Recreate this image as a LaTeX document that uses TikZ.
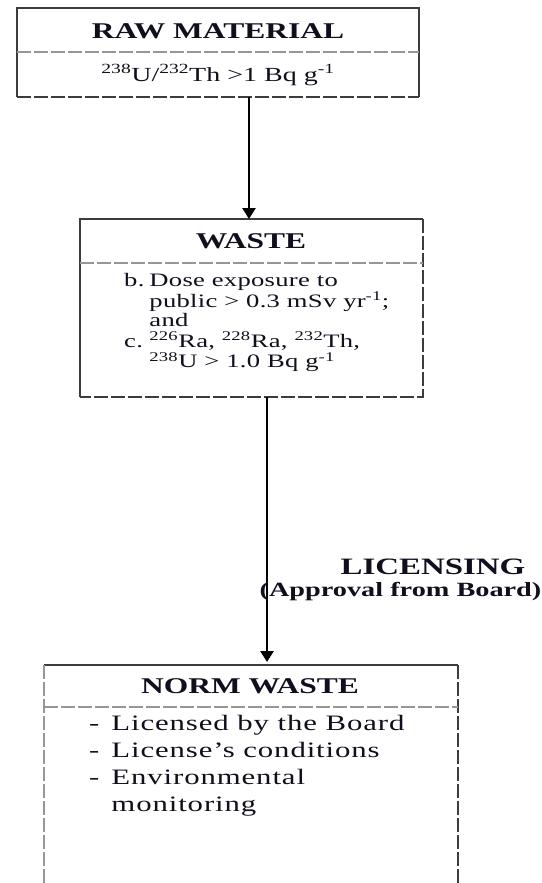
\documentclass[tikz,border=0pt]{standalone}
\usepackage{fontspec}
\setmainfont{Liberation Serif}[FakeStretch=1.4]
\usetikzlibrary{arrows.meta}
\definecolor{edge}{RGB}{60,60,60}
\definecolor{sep}{RGB}{150,150,150}
\definecolor{ink}{RGB}{15,15,30}
\begin{document}
\begin{tikzpicture}[x=1pt,y=-1pt,
  region/.style={rectangle,inner sep=0pt,outer sep=0pt},
  solidedge/.style={draw=edge,line width=1.8pt},
  dashedge/.style={draw=edge,line width=1.8pt,dash pattern=on 14pt off 3pt},
  sepline/.style={draw=sep,line width=1.8pt,dash pattern=on 14pt off 3pt},
  head/.style={inner sep=0pt,font=\fontsize{22.5}{24}\selectfont\bfseries,text=ink},
  body/.style={inner sep=0pt,text=ink,align=left},
  arr/.style={draw=black,line width=2.5pt,-{Triangle[length=11pt,width=13pt]}}]
\useasboundingbox (0,0) rectangle (541,883);

% RAW MATERIAL box
\node[region,minimum width=402pt,minimum height=89pt] (raw) at (218,52.5) {};
\coordinate (rawsep) at (0,52);
\draw[solidedge] (raw.south west) -- (raw.north west) -- (raw.north east) -- (raw.south east);
\draw[dashedge] (raw.south west) -- (raw.south east);
\draw[sepline] (raw.west |- rawsep) -- (raw.east |- rawsep);
\node[head] (rawh) at (218,31) {RAW MATERIAL};
\node[body,font=\fontsize{20}{22}\selectfont] (rawb) at (218,75)
  {\textsuperscript{238}U/\textsuperscript{232}Th >1 Bq g\textsuperscript{-1}};

% WASTE box
\node[region,minimum width=343pt,minimum height=178pt] (waste) at (251.5,308) {};
\coordinate (wastesep) at (0,263);
\draw[solidedge] (waste.south west) -- (waste.north west) -- (waste.north east);
\draw[dashedge] (waste.north east) -- (waste.south east) -- (waste.south west);
\draw[sepline] (waste.west |- wastesep) -- (waste.east |- wastesep);
\node[head] (wasteh) at (251,241) {WASTE};
\node[body,anchor=north west,font=\fontsize{19}{19}\selectfont\addfontfeatures{LetterSpace=1.5}] (wasteb) at (124,273)
  {\begin{tabular}{@{}l@{\hspace{5pt}}l@{}}
   b. & Dose exposure to\\
      & public > 0.3 mSv yr\textsuperscript{-1};\\
      & and\\
   c. & \textsuperscript{226}Ra, \textsuperscript{228}Ra, \textsuperscript{232}Th,\\
      & \textsuperscript{238}U > 1.0 Bq g\textsuperscript{-1}
   \end{tabular}};

% NORM WASTE box
\node[region,minimum width=414pt,minimum height=240pt] (norm) at (251,785) {};
\coordinate (normsep) at (0,707);
\draw[solidedge] (norm.north west) -- (norm.north east);
\draw[dashedge] (norm.north east) -- (norm.south east);
\draw[sepline] (norm.north west) -- (norm.south west);
\draw[sepline] (norm.west |- normsep) -- (norm.east |- normsep);
\node[head] (normh) at (250,686) {NORM WASTE};
\node[body,anchor=north west,font=\fontsize{22}{27}\selectfont\addfontfeatures{LetterSpace=4}] (normb) at (89,711)
  {\begin{tabular}{@{}l@{\hspace{12pt}}l@{}}
   - & Licensed by the Board\\
   - & License's conditions\\
   - & Environmental\\
     & monitoring
   \end{tabular}};

% connectors
\coordinate (c1) at (249,0);
\coordinate (c2) at (267,0);
\draw[arr] (raw.south -| c1) -- (waste.north -| c1);
\draw[arr,shorten >=3pt] (waste.south -| c2) -- (norm.north -| c2);

% label
\node[head,font=\fontsize{23.5}{24}\selectfont\bfseries] (lic) at (433,567) {LICENSING};
\node[head,font=\fontsize{20.2}{22}\selectfont\bfseries] (appr) at (400.5,592) {(Approval from Board)};
\end{tikzpicture}
\end{document}
